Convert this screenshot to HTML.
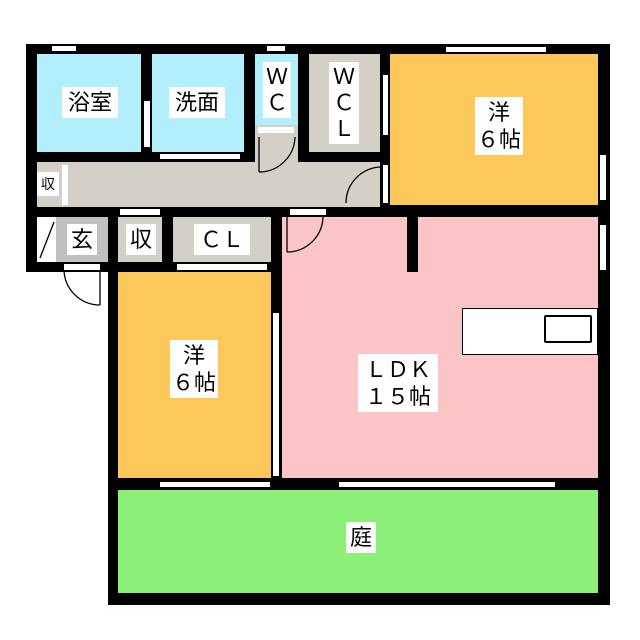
<!DOCTYPE html>
<html><head><meta charset="utf-8"><style>
body{margin:0;background:#fff;}
.a{position:absolute;}
.t{position:absolute;background:#fff;font-family:"Liberation Sans","Noto Sans CJK JP",sans-serif;font-size:22px;line-height:27px;text-align:center;color:#000;padding:2px 0;}
</style></head><body>
<div style="position:relative;width:640px;height:640px;overflow:hidden">
<div class="a" style="left:26px;top:44px;width:584px;height:228px;background:#000"></div>
<div class="a" style="left:108px;top:262px;width:502px;height:343px;background:#000"></div>
<div class="a" style="left:37px;top:54px;width:104px;height:98px;background:#b3eefc"></div>
<div class="a" style="left:152px;top:54px;width:92px;height:98px;background:#b3eefc"></div>
<div class="a" style="left:255px;top:54px;width:43px;height:71px;background:#b3eefc"></div>
<div class="a" style="left:309px;top:54px;width:71px;height:98px;background:#d4d0c8"></div>
<div class="a" style="left:390px;top:54px;width:208px;height:151px;background:#fcc85a"></div>
<div class="a" style="left:37px;top:162px;width:343px;height:45px;background:#d4d0c8"></div>
<div class="a" style="left:255px;top:125px;width:43px;height:40px;background:#d4d0c8"></div>
<div class="a" style="left:37px;top:217px;width:19px;height:45px;background:#fff"></div>
<div class="a" style="left:56px;top:217px;width:52px;height:45px;background:#c0c0c0"></div>
<div class="a" style="left:118px;top:217px;width:44px;height:45px;background:#d4d0c8"></div>
<div class="a" style="left:173px;top:217px;width:98px;height:45px;background:#d4d0c8"></div>
<div class="a" style="left:282px;top:217px;width:316px;height:261px;background:#fcc5c5"></div>
<div class="a" style="left:118px;top:272px;width:153px;height:206px;background:#fcc85a"></div>
<div class="a" style="left:118px;top:490px;width:480px;height:103px;background:#8cf078"></div>
<div class="a" style="left:407px;top:217px;width:11px;height:55px;background:#000"></div>
<div class="a" style="left:462px;top:308px;width:136px;height:47px;background:#fff;border:1px solid #000;box-sizing:border-box"></div>
<div class="a" style="left:544px;top:315px;width:48px;height:28px;border:2px solid #000;border-radius:2px;box-sizing:border-box;background:#fff"></div>
<div class="a" style="left:52px;top:46px;width:24px;height:5px;background:#fff"></div>
<div class="a" style="left:267px;top:46px;width:18px;height:5px;background:#fff"></div>
<div class="a" style="left:445px;top:46px;width:100px;height:5px;background:#fff;border:1px solid #000"></div>
<div class="a" style="left:600px;top:155px;width:6px;height:45px;background:#fff"></div>
<div class="a" style="left:600px;top:225px;width:6px;height:45px;background:#fff"></div>
<div class="a" style="left:273px;top:313px;width:6px;height:163px;background:#fff"></div>
<div class="a" style="left:160px;top:482px;width:110px;height:5px;background:#fff"></div>
<div class="a" style="left:339px;top:482px;width:216px;height:5px;background:#fff"></div>
<div class="a" style="left:144px;top:101px;width:6px;height:46px;background:#fff"></div>
<div class="a" style="left:160px;top:154px;width:80px;height:5px;background:#fff"></div>
<div class="a" style="left:258px;top:127px;width:36px;height:6px;background:#fff"></div>
<div class="a" style="left:383px;top:75px;width:5px;height:60px;background:#fff"></div>
<div class="a" style="left:383px;top:165px;width:5px;height:38px;background:#fff"></div>
<div class="a" style="left:120px;top:209px;width:40px;height:6px;background:#fff"></div>
<div class="a" style="left:290px;top:209px;width:36px;height:6px;background:#fff"></div>
<div class="a" style="left:177px;top:264px;width:90px;height:6px;background:#fff"></div>
<div class="a" style="left:64px;top:264px;width:36px;height:6px;background:#fff"></div>
<div class="a" style="left:62px;top:165px;width:6px;height:40px;background:#fff"></div>
<svg class="a" style="left:0;top:0" width="640" height="640">
<g fill="none" stroke="#000" stroke-width="1.3">
<path d="M259 172 A36 36 0 0 0 295 137 M259 137 V172"/>
<path d="M346 203 A36 36 0 0 1 382 167"/>
<path d="M287 252 A36 36 0 0 0 323 216 M287 216 V252"/>
<path d="M100 305 A36 36 0 0 1 64 270 M100 270 V305"/>
<path d="M40 258 L54 222"/>
</g></svg>
<div class="t" style="left:62px;top:87px;width:56px">浴室</div>
<div class="t" style="left:169px;top:87px;width:56px">洗面</div>
<div class="t" style="left:263px;top:62px;width:28px;line-height:26px">Ｗ<br>Ｃ</div>
<div class="t" style="left:329px;top:62px;width:30px;line-height:26px">Ｗ<br>Ｃ<br>Ｌ</div>
<div class="t" style="left:475px;top:97px;width:48px">洋<br>６帖</div>
<div class="t" style="left:37px;top:172px;width:22px;font-size:14px;line-height:20px">収</div>
<div class="t" style="left:67px;top:224px;width:30px">玄</div>
<div class="t" style="left:126px;top:224px;width:30px">収</div>
<div class="t" style="left:194px;top:224px;width:56px">ＣＬ</div>
<div class="t" style="left:170px;top:340px;width:48px">洋<br>６帖</div>
<div class="t" style="left:358px;top:354px;width:80px">ＬＤＫ<br>１５帖</div>
<div class="t" style="left:346px;top:522px;width:30px">庭</div>
</div>
</body></html>
